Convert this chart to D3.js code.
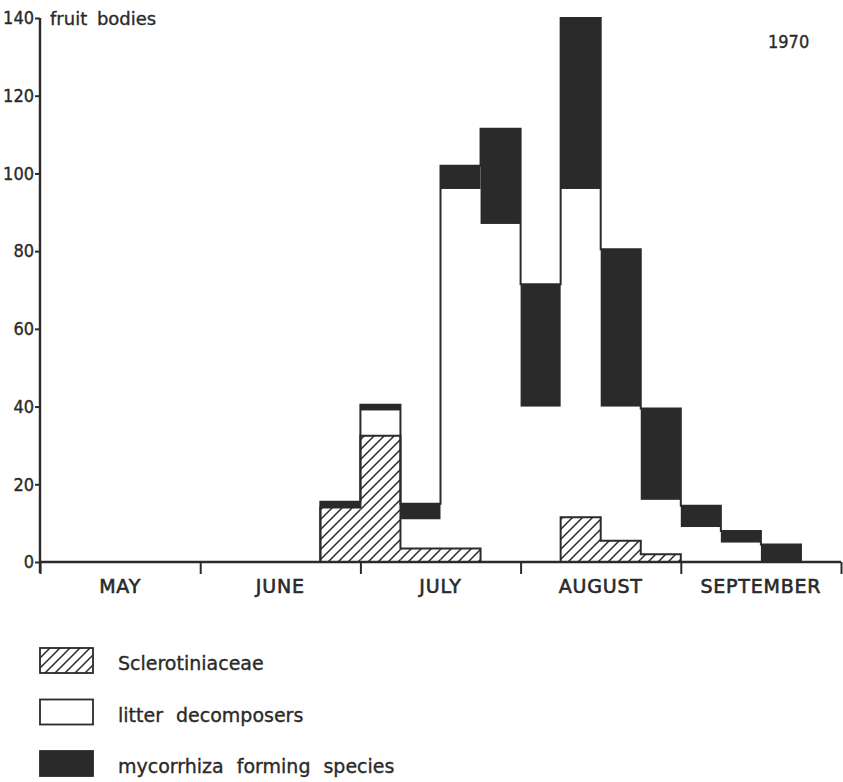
<!DOCTYPE html>
<html>
<head>
<meta charset="utf-8">
<script src="https://cdn.jsdelivr.net/npm/d3@7"></script>
<style>
    body { margin: 0; background: #fff; }
    svg { display: block; }
    text { stroke: #2a2a2a; stroke-width: 0.35px; }
</style>
</head>
<body>
<script>
// quarter-month bins, counted from 1 May (0 = first quarter of May)
const bins = [7, 8, 9, 10, 11, 12, 13, 14, 15, 16, 17, 18];
const sclerotiniaceae = [14, 32.5, 3.5, 3.5, 0, 0, 11.5, 5.5, 2, 0, 0, 0];
const litter = [0, 6.5, 7.5, 92.5, 87, 40, 84.5, 34.5, 14, 9, 5, 0];
const mycorrhiza = [1.5, 1.5, 4, 6, 24.5, 31.5, 44, 40.5, 23.5, 5.5, 3, 4.5];

const months = ['MAY', 'JUNE', 'JULY', 'AUGUST', 'SEPTEMBER'];
const month_bounds = [0, 4, 8, 12, 16, 20];
const y_ticks = [0, 20, 40, 60, 80, 100, 120, 140];
const legend_labels = ['Sclerotiniaceae', 'litter decomposers', 'mycorrhiza forming species'];

const width = 843,
    height = 782;
const ink = '#2a2a2a';

const x = d3.scaleLinear().domain([0, 20]).range([40, 841]);
const y = d3.scaleLinear().domain([0, 140]).range([562, 18]);

const svg = d3.select('body')
    .append('svg')
    .attr('width', width)
    .attr('height', height);

svg.append('defs').append('pattern')
    .attr('id', 'hatch')
    .attr('patternUnits', 'userSpaceOnUse')
    .attr('width', 10)
    .attr('height', 10)
    .append('path')
    .attr('d', 'M0,10 L10,0 M-2,2 L2,-2 M8,12 L12,8')
    .attr('stroke', ink)
    .attr('stroke-width', 1.5)
    .attr('fill', 'none');

const rows = bins.map(function (b, i) {
    return {bin: b, scl: sclerotiniaceae[i], lit: litter[i], myc: mycorrhiza[i]};
});
const keys = ['scl', 'lit', 'myc'];
const fills = {scl: 'url(#hatch)', lit: '#fff', myc: ink};
const stacked = d3.stack().keys(keys)(rows);

// bars
const layers = svg.append('g')
    .selectAll('g')
    .data(stacked)
    .enter().append('g')
    .attr('fill', function (d) {
        return fills[d.key];
    });

layers.selectAll('rect')
    .data(function (d) {
        return d;
    })
    .enter().append('rect')
    .attr('x', function (d) {
        return x(d.data.bin);
    })
    .attr('width', function (d) {
        return x(d.data.bin + 1) - x(d.data.bin);
    })
    .attr('y', function (d) {
        return y(d[1]);
    })
    .attr('height', function (d) {
        return y(d[0]) - y(d[1]);
    });

// outlines: step path round the whole histogram and round the hatched part
function step_outline(values) {
    const pts = [[bins[0], 0]];
    values.forEach(function (v, i) {
        pts.push([bins[i], v]);
    });
    const last = bins[bins.length - 1] + 1;
    pts.push([last, values[values.length - 1]]);
    pts.push([last, 0]);
    return d3.line()
        .x(function (p) { return x(p[0]); })
        .y(function (p) { return y(p[1]); })
        .curve(d3.curveStepAfter)(pts);
}

const totals = rows.map(function (r) {
    return r.scl + r.lit + r.myc;
});

svg.append('path')
    .attr('d', step_outline(sclerotiniaceae))
    .attr('fill', 'none')
    .attr('stroke', ink)
    .attr('stroke-width', 2);

svg.append('path')
    .attr('d', step_outline(totals))
    .attr('fill', 'none')
    .attr('stroke', ink)
    .attr('stroke-width', 2);

// y axis
const y_axis = svg.append('g')
    .attr('transform', 'translate(' + x(0) + ',0)')
    .call(d3.axisLeft(y).tickValues(y_ticks).tickSize(5).tickPadding(1))
    .call(function (g) {
        g.select('.domain').remove();
    });
y_axis.selectAll('line').attr('stroke', ink).attr('stroke-width', 2);
y_axis.selectAll('text')
    .attr('fill', ink)
    .style('font-family', '"DejaVu Sans Condensed", "DejaVu Sans", sans-serif')
    .style('font-size', '18px');

svg.append('line')
    .attr('x1', x(0)).attr('x2', x(0))
    .attr('y1', y(140)).attr('y2', y(0) + 11)
    .attr('stroke', ink)
    .attr('stroke-width', 2.4);

// x axis
const x_axis = svg.append('g')
    .attr('transform', 'translate(0,' + y(0) + ')')
    .call(d3.axisBottom(x).tickValues(month_bounds).tickSize(12).tickFormat(''))
    .call(function (g) {
        g.select('.domain').remove();
    });
x_axis.selectAll('line').attr('stroke', ink).attr('stroke-width', 2);

svg.append('line')
    .attr('x1', x(0)).attr('x2', x(20))
    .attr('y1', y(0)).attr('y2', y(0))
    .attr('stroke', ink)
    .attr('stroke-width', 2.4);

svg.append('g')
    .selectAll('text')
    .data(months)
    .enter().append('text')
    .attr('x', function (d, i) {
        return x(month_bounds[i] + 2);
    })
    .attr('y', 593)
    .attr('text-anchor', 'middle')
    .attr('fill', ink)
    .style('font-family', '"DejaVu Sans", sans-serif')
    .style('font-size', '19px')
    .style('letter-spacing', '0.8px')
    .style('stroke-width', '0.6px')
    .text(function (d) {
        return d;
    });

svg.append('text')
    .attr('x', 50)
    .attr('y', 25)
    .attr('fill', ink)
    .style('font-family', '"DejaVu Sans", sans-serif')
    .style('font-size', '18px')
    .style('word-spacing', '4px')
    .text('fruit bodies');

svg.append('text')
    .attr('x', 768)
    .attr('y', 48)
    .attr('fill', ink)
    .style('font-family', '"DejaVu Sans Condensed", "DejaVu Sans", sans-serif')
    .style('font-size', '18px')
    .text('1970');

// legend
const legend = svg.append('g')
    .selectAll('g')
    .data(keys)
    .enter().append('g')
    .attr('transform', function (d, i) {
        return 'translate(40,' + (648 + i * 51.5) + ')';
    });

legend.append('rect')
    .attr('width', 53)
    .attr('height', 25)
    .attr('fill', function (d) {
        return fills[d];
    })
    .style('stroke', ink)
    .style('stroke-width', 1.8);

legend.append('text')
    .attr('x', 78)
    .attr('y', 22)
    .attr('fill', ink)
    .style('font-family', '"DejaVu Sans", sans-serif')
    .style('font-size', '19px')
    .style('word-spacing', '7px')
    .text(function (d, i) {
        return legend_labels[i];
    });
</script>
</body>
</html>
